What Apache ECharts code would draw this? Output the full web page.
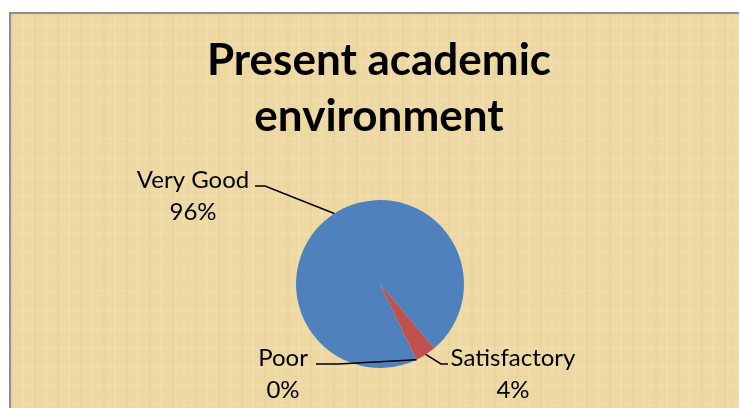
<!DOCTYPE html>
<html>
<head>
<meta charset="utf-8">
<script src="https://cdn.jsdelivr.net/npm/echarts@6/dist/echarts.min.js"></script>
<style>
    html, body {
        margin: 0;
        width: 739px;
        height: 408px;
        overflow: hidden;
        background: #fff;
    }
    /* parchment backdrop of the chart area */
    .frame {
        position: absolute;
        left: 9px;
        top: 12px;
        width: 760px;
        height: 420px;
        border: 2px solid #8e8e8e;
        background:
            repeating-linear-gradient(90deg, rgba(190, 160, 80, 0.08) 0 2px, transparent 2px 11px, rgba(255, 245, 215, 0.14) 11px 13px, transparent 13px 23px),
            repeating-linear-gradient(0deg, rgba(190, 160, 80, 0.07) 0 1px, transparent 1px 9px, rgba(255, 245, 215, 0.12) 9px 11px, transparent 11px 19px),
            #eed9a4;
    }
    #chart {
        position: absolute;
        left: 0;
        top: 0;
        width: 739px;
        height: 408px;
    }
</style>
</head>
<body>
<div class="frame"></div>
<div id="chart"></div>
<script>
    // data
    const categories = ['Very Good', 'Satisfactory', 'Poor'];
    const percents = [96, 4, 0];
    const colors = ['#4f81bd', '#c0504d', '#9bbb59'];

    // label placement: centre of text block, elbow and end of leader line (relative to centre)
    const labelPos = [
        { x: 193, y: 196, elbow: [72, -10], end: [62, -10] },
        { x: 513, y: 374, elbow: [-72, -10], end: [-65, -10] },
        { x: 283, y: 374, elbow: [55, -10], end: [33, -10] }
    ];

    const chart = echarts.init(document.getElementById('chart'), null, { renderer: 'canvas' });

    // leader line starts on the slice's outer edge, at its mid angle
    function edgePoint(seriesIdx, idx) {
        const data = chart.getModel().getSeriesByIndex(seriesIdx).getData();
        const l = data.getItemLayout(idx);
        const a = (l.startAngle + l.endAngle) / 2;
        return [l.cx + l.r * Math.cos(a), l.cy + l.r * Math.sin(a)];
    }

    const pieBase = {
        type: 'pie',
        center: [380, 284],
        radius: 84,
        startAngle: 295.8,
        clockwise: true,
        emphasis: { disabled: true }
    };

    chart.setOption({
        animation: false,
        backgroundColor: 'transparent',
        graphic: [{
            type: 'text',
            x: 379,
            y: 33,
            style: {
                text: 'Present academic\nenvironment',
                align: 'center',
                verticalAlign: 'top',
                fontFamily: 'Lato',
                fontWeight: 'bold',
                fontSize: 44,
                lineHeight: 56,
                fill: '#000'
            }
        }],
        series: [
            // the slices
            Object.assign({}, pieBase, {
                z: 2,
                data: categories.map((name, i) => ({
                    name: name,
                    value: percents[i],
                    itemStyle: { color: colors[i] }
                })),
                label: { show: false },
                labelLine: { show: false }
            }),
            // same pie, invisible, only to draw labels and leader lines above the slices
            Object.assign({}, pieBase, {
                z: 5,
                silent: true,
                data: categories.map((name, i) => ({
                    name: name,
                    value: percents[i],
                    itemStyle: { color: 'rgba(0,0,0,0)' }
                })),
                label: {
                    show: true,
                    formatter: '{b}\n{c}%',
                    fontFamily: 'Lato',
                    fontSize: 24,
                    lineHeight: 32,
                    color: '#000'
                },
                labelLine: {
                    show: true,
                    lineStyle: { color: '#000', width: 1.5 }
                },
                labelLayout: function (params) {
                    const p = labelPos[params.dataIndex];
                    let start;
                    try {
                        start = edgePoint(1, params.dataIndex);
                    } catch (e) {
                        start = params.labelLinePoints ? params.labelLinePoints[0] : [p.x + p.elbow[0], p.y + p.elbow[1]];
                    }
                    return {
                        x: p.x,
                        y: p.y,
                        align: 'center',
                        verticalAlign: 'middle',
                        labelLinePoints: [
                            start,
                            [p.x + p.elbow[0], p.y + p.elbow[1]],
                            [p.x + p.end[0], p.y + p.end[1]]
                        ]
                    };
                }
            })
        ]
    });

    window.addEventListener('resize', () => chart.resize());
</script>
</body>
</html>
